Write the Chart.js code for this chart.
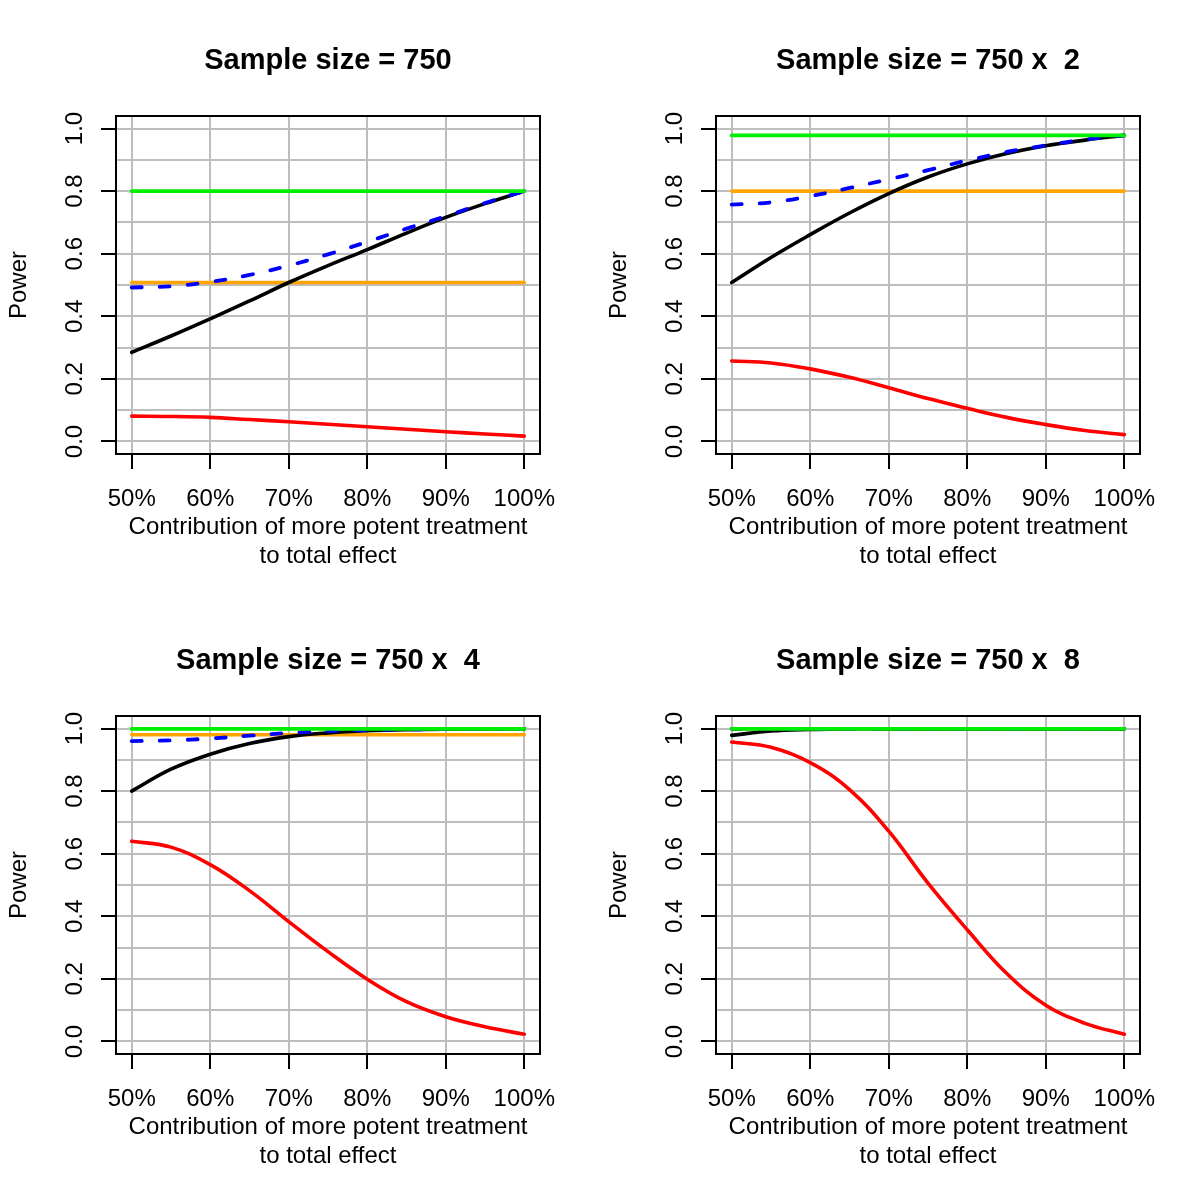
<!DOCTYPE html>
<html>
<head>
<meta charset="utf-8">
<script src="https://cdn.jsdelivr.net/npm/chart.js@4.4.1/dist/chart.umd.min.js"></script>
<style>
    body { margin: 0; background: #fff; }
    #grid { width: 1200px; height: 1200px; display: grid; grid-template-columns: 600px 600px; grid-template-rows: 600px 600px; }
    canvas { display: block; }
</style>
</head>
<body>
<div id="grid">
    <canvas id="panel1" width="600" height="600"></canvas>
    <canvas id="panel2" width="600" height="600"></canvas>
    <canvas id="panel3" width="600" height="600"></canvas>
    <canvas id="panel4" width="600" height="600"></canvas>
</div>
<script>
// contribution of the more potent treatment (%)
const contribution = [50, 55, 60, 65, 70, 75, 80, 85, 90, 95, 100];
const xTicks = [50, 60, 70, 80, 90, 100];
const yTicks = [0, 0.1, 0.2, 0.3, 0.4, 0.5, 0.6, 0.7, 0.8, 0.9, 1.0];
const yLabels = ['0.0', '', '0.2', '', '0.4', '', '0.6', '', '0.8', '', '1.0'];
const titles = ['Sample size = 750', 'Sample size = 750 x  2', 'Sample size = 750 x  4', 'Sample size = 750 x  8'];

// sample size = 750
const green1  = [0.800, 0.800, 0.800, 0.800, 0.800, 0.800, 0.800, 0.800, 0.800, 0.800, 0.800];
const orange1 = [0.508, 0.508, 0.508, 0.508, 0.508, 0.508, 0.508, 0.508, 0.508, 0.508, 0.508];
const blue1   = [0.492, 0.496, 0.510, 0.532, 0.562, 0.598, 0.638, 0.680, 0.720, 0.762, 0.800];
const black1  = [0.285, 0.337, 0.392, 0.449, 0.508, 0.562, 0.613, 0.666, 0.716, 0.760, 0.800];
const red1    = [0.081, 0.080, 0.077, 0.070, 0.063, 0.055, 0.047, 0.039, 0.031, 0.024, 0.017];

// sample size = 750 x 2
const green2  = [0.978, 0.978, 0.978, 0.978, 0.978, 0.978, 0.978, 0.978, 0.978, 0.978, 0.978];
const orange2 = [0.800, 0.800, 0.800, 0.800, 0.800, 0.800, 0.800, 0.800, 0.800, 0.800, 0.800];
const blue2   = [0.757, 0.764, 0.784, 0.810, 0.838, 0.867, 0.898, 0.925, 0.946, 0.965, 0.978];
const black2  = [0.508, 0.588, 0.661, 0.730, 0.792, 0.845, 0.887, 0.920, 0.945, 0.963, 0.978];
const red2    = [0.257, 0.251, 0.232, 0.205, 0.172, 0.137, 0.106, 0.077, 0.054, 0.035, 0.022];

// sample size = 750 x 4
const green3  = [0.999, 0.999, 0.999, 0.999, 0.999, 0.999, 0.999, 0.999, 0.999, 0.999, 0.999];
const orange3 = [0.980, 0.980, 0.980, 0.980, 0.980, 0.980, 0.980, 0.980, 0.980, 0.980, 0.980];
const blue3   = [0.960, 0.962, 0.968, 0.977, 0.986, 0.992, 0.995, 0.997, 0.998, 0.999, 0.999];
const black3  = [0.800, 0.870, 0.918, 0.952, 0.974, 0.986, 0.993, 0.996, 0.998, 0.999, 0.999];
const red3    = [0.640, 0.621, 0.565, 0.482, 0.383, 0.287, 0.199, 0.127, 0.079, 0.047, 0.023];

// sample size = 750 x 8
const green4  = [0.999, 0.999, 0.999, 0.999, 0.999, 0.999, 0.999, 0.999, 0.999, 0.999, 0.999];
const orange4 = [0.999, 0.999, 0.999, 0.999, 0.999, 0.999, 0.999, 0.999, 0.999, 0.999, 0.999];
const blue4   = [0.999, 0.999, 0.999, 0.999, 0.999, 0.999, 0.999, 0.999, 0.999, 0.999, 0.999];
const black4  = [0.978, 0.992, 0.997, 0.999, 0.999, 0.999, 0.999, 0.999, 0.999, 0.999, 0.999];
const red4    = [0.957, 0.940, 0.891, 0.805, 0.672, 0.506, 0.357, 0.218, 0.116, 0.058, 0.023];

Chart.defaults.font.family = '"Liberation Sans", Arial, Helvetica, sans-serif';
Chart.defaults.color = '#000';

// R style box around the plot region
const boxPlugin = {
    id: 'box',
    afterDraw(chart) {
        let a = chart.chartArea;
        let ctx = chart.ctx;
        ctx.save();
        ctx.strokeStyle = '#000';
        ctx.lineWidth = 2;
        ctx.strokeRect(a.left, a.top, a.right - a.left, a.bottom - a.top);
        ctx.restore();
    }
};

function toPoints(values) {
    let pts = [];
    for (let i = 0; i < contribution.length; i++) {
        pts.push({x: contribution[i], y: values[i]});
    }
    return pts;
}

function line(values, color, width, dash) {
    return {
        data: toPoints(values),
        borderColor: color,
        borderWidth: width,
        borderDash: dash || [],
        borderCapStyle: 'round',
        pointRadius: 0,
        fill: false,
        tension: 0.4
    };
}

function createPanel(id, title, green, orange, blue, black, red) {
    new Chart(document.getElementById(id), {
        type: 'line',
        data: {
            // first dataset is drawn on top
            datasets: [
                line(green, '#00ee00', 3.8),
                line(blue, '#0000ff', 3.8, [10, 18]),
                line(black, '#000000', 3.6),
                line(red, '#ff0000', 3.6),
                line(orange, '#ffa500', 3.6)
            ]
        },
        options: {
            responsive: false,
            animation: false,
            layout: { padding: { left: 0, right: 60, top: 0, bottom: 0 } },
            plugins: {
                legend: { display: false },
                tooltip: { enabled: false },
                title: {
                    display: true,
                    text: title,
                    fullSize: false,
                    color: '#000',
                    font: { size: 29, weight: 'bold' },
                    padding: { top: 44, bottom: 37.2 }
                }
            },
            scales: {
                x: {
                    type: 'linear',
                    min: 48,
                    max: 102,
                    afterBuildTicks: function(s) { s.ticks = xTicks.map(v => ({value: v})); },
                    afterFit: function(s) { s.height = 146; },
                    border: { display: false },
                    grid: { color: '#bebebe', lineWidth: 2, tickLength: 15, tickWidth: 2, tickColor: '#000' },
                    ticks: {
                        font: { size: 24 },
                        padding: 16,
                        maxRotation: 0,
                        autoSkip: false,
                        callback: v => v + '%'
                    },
                    title: {
                        display: true,
                        text: ['Contribution of more potent treatment', 'to total effect'],
                        font: { size: 24 },
                        padding: { top: 0, bottom: 29.5 }
                    }
                },
                y: {
                    type: 'linear',
                    min: -0.04,
                    max: 1.04,
                    afterBuildTicks: function(s) { s.ticks = yTicks.map(v => ({value: v})); },
                    afterFit: function(s) { s.width = 116; },
                    border: { display: false },
                    grid: {
                        color: '#bebebe',
                        lineWidth: 2,
                        tickLength: 15,
                        tickWidth: 2,
                        tickColor: ctx => (ctx.index % 2 === 0 ? '#000' : 'rgba(0,0,0,0)')
                    },
                    ticks: {
                        font: { size: 24 },
                        padding: 9,
                        minRotation: 90,
                        maxRotation: 90,
                        crossAlign: 'center',
                        autoSkip: false,
                        callback: (v, i) => yLabels[i]
                    },
                    title: {
                        display: true,
                        text: 'Power',
                        font: { size: 24 },
                        padding: { top: 5, bottom: 0 }
                    }
                }
            }
        },
        plugins: [boxPlugin]
    });
}

createPanel('panel1', titles[0], green1, orange1, blue1, black1, red1);
createPanel('panel2', titles[1], green2, orange2, blue2, black2, red2);
createPanel('panel3', titles[2], green3, orange3, blue3, black3, red3);
createPanel('panel4', titles[3], green4, orange4, blue4, black4, red4);
</script>
</body>
</html>
